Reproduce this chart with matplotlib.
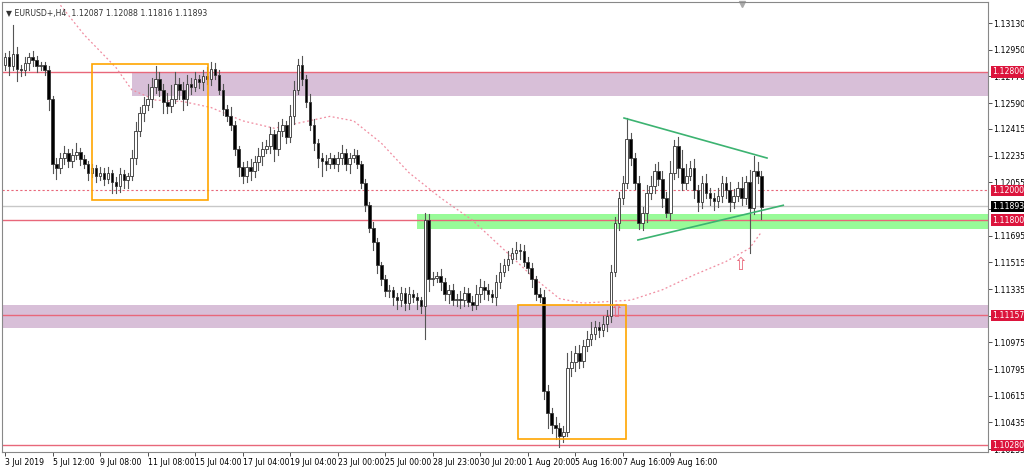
import matplotlib
matplotlib.use("Agg")
import matplotlib.pyplot as plt
from matplotlib.patches import Rectangle
import numpy as np

closes = [1.1290,1.1284,1.1292,1.1282,1.1281,1.1286,1.1290,1.1288,1.1284,1.1285,
 1.1281,1.1262,1.1218,1.1215,
 1.1222,1.1225,1.1220,1.1224,1.1226,1.1221,1.1218,1.1212,1.1215,1.1210,1.1212,
 1.1208,1.1212,1.1206,1.1203,1.1211,1.1207,1.1210,1.1222,
 1.1240,1.1252,1.1258,1.1262,1.1270,1.1275,
 1.1268,1.1260,1.1257,1.1262,1.1272,1.1268,1.1262,1.1272,1.1270,1.1275,1.1273,1.1277,1.1275,1.1282,1.1278,1.1268,
 1.1255,1.1250,1.1244,1.1228,1.1216,1.1210,
 1.1216,1.1213,1.1219,1.1223,1.1228,1.1230,1.1238,1.1228,1.1240,1.1244,1.1236,1.1250,
 1.1268,1.1285,1.1275,
 1.1260,1.1244,1.1232,1.1222,1.1220,1.1218,1.1222,
 1.1218,1.1222,1.1225,1.1218,1.1222,1.1224,1.1218,
 1.1205,1.1190,1.1175,1.1165,1.1150,1.1140,1.1132,1.1133,1.1128,
 1.1126,1.1131,1.1124,1.1130,1.1128,1.1126,1.1122,
 1.1180,1.1140,
 1.1141,1.1142,1.1138,1.1130,1.1133,1.1126,1.1127,1.1126,1.1131,1.1125,1.1123,1.1130,1.1135,1.1133,1.1130,1.1128,1.1138,1.1145,1.1150,1.1154,1.1158,1.1160,1.1159,
 1.1152,1.1148,1.1140,1.1130,1.1128,1.1065,
 1.1050,1.1042,1.1040,1.1034,1.1037,
 1.1080,1.1084,1.1090,1.1085,1.1095,1.1100,1.1103,1.1108,1.1106,1.1110,1.1115,
 1.1145,1.1178,1.1195,1.1205,1.1235,
 1.1222,1.1205,1.1178,1.1185,1.1198,1.1203,1.1213,1.1208,1.1195,1.1185,1.1212,1.1230,1.1215,1.1205,1.1210,1.1215,1.1200,1.1192,1.1205,1.1198,1.1195,1.1193,1.1196,1.1205,1.1200,1.1192,1.1196,1.1202,1.1195,1.1206,1.1188,1.1213,1.1210,1.1189]
first_open = 1.1285

# wick extensions in pips (upper / lower)
upper_pips = [3,4,20,5,3,4,3,4,3,2, 2,3,2,4, 3,5,3,4,6,3,3,2,3,2,4,
 3,4,2,3,4,3,2,5, 6,4,5,10,6,9,
 5,4,6,9,8,4,5,6,4,5,3,4,6,5,4,3,
 4,3,6,3,2,3, 4,5,4,6,5,4,5,3,6,4,3,8,
 6,4,6, 3,5,4,3,3,4,3, 2,4,6,3,3,4,3, 2,3,2,4,3,2,3,3,2,
 3,4,3,5,3,3,2, 5,4, 4,3,5,3,3,4,3,5,4,3,4,6,5,4,4,3,5,6,4,5,3,5,4,
 4,3,3,2,4,5, 4,3,5,3,4,
 10,8,5,6,4,5,8,4,3,5,4, 5,4,4,5,14,
 4,3,5,4,6,7,5,6,5,4,8,4,6,12,8,5,6,4,5,6,4,3,6,5,4,6,5,4,7,4,8,10,6,3]
lower_pips = [4,6,3,8,4,3,5,4,4,3, 3,8,6,7, 3,4,4,4,3,4,3,5,3,4,3,
 4,3,8,5,4,5,5,3, 4,3,5,4,6,4,
 4,8,5,4,3,6,8,4,5,3,4,5,3,4,3,3,
 4,3,3,4,6,5, 4,6,4,5,6,3,5,8,4,3,4,3,
 5,3,4, 4,3,5,6,10,4,3, 3,5,4,4,6,3,3, 3,4,3,5,6,4,3,4,5,
 6,4,5,4,3,6,5, 22,8, 4,3,5,4,6,3,4,5,4,3,4,3,5,6,4,3,5,4,3,4,3,4,5,
 3,4,5,4,3,6, 10,6,8,7,4,
 3,5,6,5,4,3,4,3,5,4,5, 4,3,5,4,3,
 5,4,4,5,6,4,5,4,6,3,5,4,6,5,4,3,5,6,4,3,5,6,4,4,5,6,4,3,5,4,30,4,5,8]

ma_bars = [14, 20, 28, 32, 38, 45, 52, 60, 68, 75, 82, 88, 95, 102, 110, 118, 126, 134, 140, 146, 152, 158, 166, 174, 182, 188, 191]
ma_vals = [1.1325,1.1305,1.1283,1.1268,1.1261,1.1260,1.1256,1.1247,1.1242,1.1246,1.1250,1.1247,1.1232,1.1212,1.1195,1.1180,1.1160,1.1140,1.1127,1.1124,1.1125,1.1126,1.1133,1.1143,1.1152,1.1161,1.1172]

ytick_labels = ["1.13130","1.12950","1.12770","1.12590","1.12415","1.12235","1.12055","1.11875",
                "1.11695","1.11515","1.11335","1.11155","1.10975","1.10795","1.10615","1.10435","1.10255"]
xtick_labels = ["3 Jul 2019","5 Jul 12:00","9 Jul 08:00","11 Jul 08:00","15 Jul 04:00","17 Jul 04:00",
                "19 Jul 04:00","23 Jul 00:00","25 Jul 00:00","28 Jul 23:00","30 Jul 20:00","1 Aug 20:00",
                "5 Aug 16:00","7 Aug 16:00","9 Aug 16:00"]
xtick_bars = [0,12,24,36,48,60,72,84,96,108,120,132,144,156,168]
levels_red = [1.1280, 1.1180, 1.11157, 1.1028]
level_dotted = 1.1200
last_price = 1.11893
zones = [(32, 1.1264, 1.1280), (-5, 1.1107, 1.1123), (104, 1.1174, 1.1184)]
zone_colors = ["#d8bfd8", "#d8bfd8", "#98fb98"]
boxes = [(22, 51.3, 1.11935, 1.12853), (129.5, 156.8, 1.1032, 1.1123)]
tri_upper = ([156.3, 192.4], [1.12489, 1.12219])
tri_lower = ([159.8, 196.5], [1.11666, 1.1190])
arrows = [(154.3, 1.1124), (185.6, 1.1156)]

FS = 5.6
fig = plt.figure(figsize=(10.24, 4.74), dpi=100)
ax = fig.add_axes([2/1024, 22/474, 986/1024, 450/474])
ax.set_xlim(-0.76, 248.2)
ax.set_ylim(1.10235, 1.13272)

for (b0, lo, hi), c in zip(zones, zone_colors):
    ax.add_patch(Rectangle((b0, lo), 260, hi - lo, color=c, zorder=1, lw=0))
for lv in levels_red:
    ax.axhline(lv, color="#e8677a", lw=1, zorder=2)
ax.axhline(level_dotted, color="#e8677a", lw=0.8, ls=(0, (2, 2)), zorder=2)
ax.axhline(last_price, color="#c8c8c8", lw=1, zorder=2)

ax.plot(ma_bars, ma_vals, color="#f08ca0", lw=0.9, ls=(0, (1.5, 2)), zorder=3)

opens = [first_open] + closes[:-1]
for i, (o, c) in enumerate(zip(opens, closes)):
    hi = max(o, c) + upper_pips[i] * 0.0001
    lo = min(o, c) - lower_pips[i] * 0.0001
    ax.plot([i, i], [lo, hi], color="#555555", lw=0.8, zorder=4)
    bull = c >= o
    h = max(abs(c - o), 0.00004)
    ax.add_patch(Rectangle((i - 0.33, min(o, c)), 0.66, h,
                           facecolor="white" if bull else "black",
                           edgecolor="#333333", lw=0.6, zorder=5))

for x0, x1, y0, y1 in boxes:
    ax.add_patch(Rectangle((x0, y0), x1 - x0, y1 - y0, fill=False, edgecolor="#ffa500", lw=1.2, zorder=6))
ax.plot(*tri_upper, color="#3cb371", lw=1.2, zorder=6)
ax.plot(*tri_lower, color="#3cb371", lw=1.2, zorder=6)
for b, p in arrows:
    ax.text(b, p, "⇧", color="#e8677a", fontsize=12, ha="center", va="top", zorder=7)

yt = [float(s) for s in ytick_labels]
ax.yaxis.tick_right()
ax.set_yticks(yt)
ax.set_yticklabels(ytick_labels, fontsize=FS)
ax.set_xticks(xtick_bars)
ax.set_xticklabels(xtick_labels, fontsize=FS, ha="left")
ax.tick_params(length=3, width=0.6, color="#333333", pad=1)
for s in ax.spines.values():
    s.set_color("#888888")

def tag(p, txt, bg):
    ax.text(1.004, p, txt, transform=ax.get_yaxis_transform(), fontsize=FS, color="white",
            va="center", ha="left", zorder=10,
            bbox=dict(boxstyle="square,pad=0.15", facecolor=bg, edgecolor="none"))
for p, t in [(1.1280, "1.12800"), (1.1200, "1.12000"), (1.1180, "1.11800"), (1.11157, "1.11157"), (1.1028, "1.10280")]:
    tag(p, t, "#dc143c")
tag(last_price, "1.11893", "black")

ax.text(0.004, 0.985, "▼ EURUSD+,H4  1.12087 1.12088 1.11816 1.11893", transform=ax.transAxes,
        fontsize=FS, va="top", ha="left", color="#333333")
ax.plot([0.75], [0.995], marker="v", color="#aaaaaa", markersize=4, transform=ax.transAxes, clip_on=False)
fig.savefig("out.png", dpi=100)
